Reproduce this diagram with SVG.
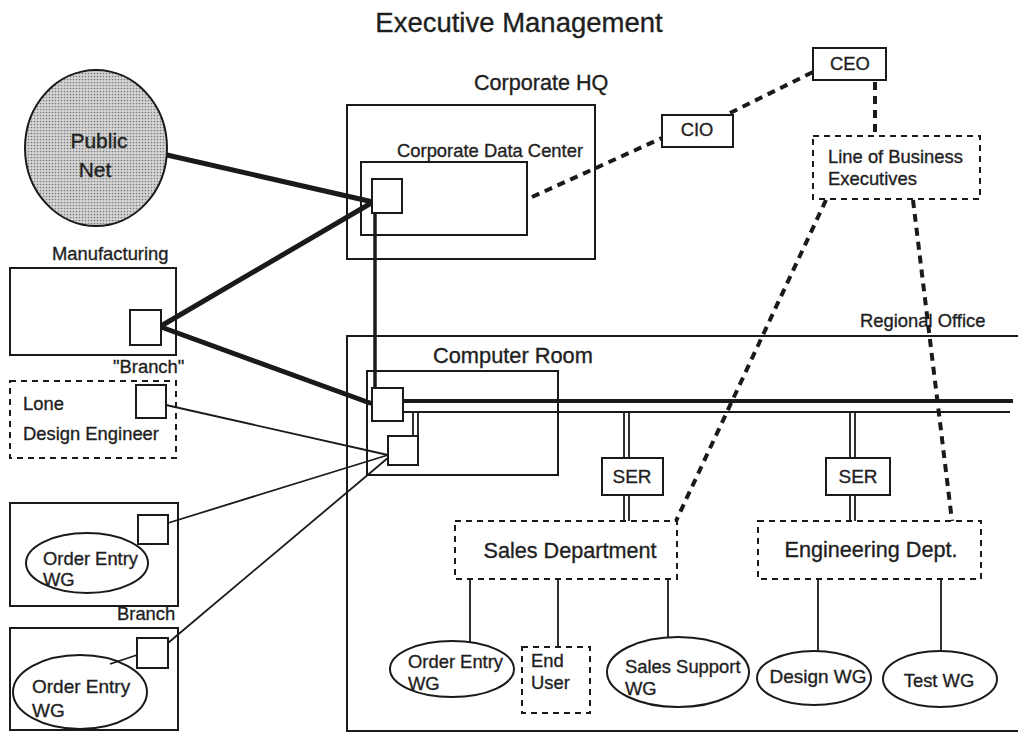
<svg xmlns="http://www.w3.org/2000/svg" width="1018" height="732" viewBox="0 0 1018 732">
  <defs>
    <!-- halftone fill for the public network cloud -->
    <pattern id="halftone" width="3" height="3" patternUnits="userSpaceOnUse">
      <rect width="3" height="3" fill="#d6d6d6"/>
      <circle cx="1.5" cy="1.5" r="0.85" fill="#7a7a7a"/>
    </pattern>
  </defs>
  <style>
    .bx { fill: none; stroke: #1a1a1a; stroke-width: 2; }
    .fl { fill: #ffffff; stroke: #1a1a1a; stroke-width: 2; }
    .db { fill: none; stroke: #1a1a1a; stroke-width: 2; stroke-dasharray: 6 5; }
    .thin { stroke: #1a1a1a; stroke-width: 1.8; fill: none; }
    .trunk { stroke: #1a1a1a; stroke-width: 5; fill: none; stroke-linecap: round; }
    .mid { stroke: #1a1a1a; stroke-width: 3.5; fill: none; }
    .mgmt { stroke: #1a1a1a; stroke-width: 4; fill: none; stroke-dasharray: 8 6; }
    text { font-family: "Liberation Sans", Arial, sans-serif; fill: #1f1f1f; stroke: #1f1f1f; stroke-width: 0.35; }
    .t18 { font-size: 18.4px; }
    .t19 { font-size: 19px; }
    .t21 { font-size: 21.6px; }
    .mid-a { text-anchor: middle; }
  </style>
  <rect width="1018" height="732" fill="#ffffff"/>

  <text x="519" y="32" class="mid-a" style="font-size:27.5px">Executive Management</text>

  <!-- regional office enclosure (runs off the right edge) -->
  <g id="regional-office">
    <rect x="347" y="336" width="700" height="395" class="bx"/>
    <text x="860" y="327" class="t18">Regional Office</text>
  </g>

  <g id="corporate-hq">
    <rect x="347" y="105" width="248" height="154" class="bx"/>
    <text x="474" y="90" class="t21">Corporate HQ</text>
  </g>

  <g id="corporate-data-center">
    <rect x="361" y="162" width="166" height="73" class="bx"/>
    <text x="397" y="157" class="t18">Corporate Data Center</text>
  </g>

  <g id="computer-room">
    <rect x="367" y="371" width="191" height="104" class="bx"/>
    <text x="433" y="363" style="font-size:21.8px">Computer Room</text>
  </g>

  <g id="manufacturing">
    <rect x="10" y="268" width="166" height="87" class="bx"/>
    <text x="52" y="260" class="t18">Manufacturing</text>
  </g>

  <g id="lone-design-engineer">
    <rect x="10" y="381" width="166" height="77" class="db"/>
    <text x="113" y="373" class="t18">"Branch"</text>
    <text x="23" y="410" class="t18">Lone</text>
    <text x="23" y="440" class="t18">Design Engineer</text>
  </g>

  <g id="branch-1">
    <rect x="10" y="503" width="168" height="103" class="bx"/>
  </g>

  <g id="branch-2">
    <rect x="10" y="628" width="168" height="102" class="bx"/>
    <text x="117" y="620" class="t18">Branch</text>
  </g>

  <!-- connectors -->
  <g id="connectors">
    <!-- WAN trunks -->
    <line x1="167" y1="155" x2="373" y2="202" class="trunk"/>
    <line x1="161" y1="326" x2="373" y2="202" class="trunk"/>
    <line x1="161" y1="327" x2="370" y2="403" class="trunk"/>
    <line x1="375" y1="202" x2="375" y2="390" class="mid"/>
    <!-- dial-in and branch links -->
    <line x1="166" y1="405" x2="388" y2="455" class="thin"/>
    <line x1="168" y1="523" x2="388" y2="455" class="thin"/>
    <line x1="168" y1="643" x2="389" y2="457" class="thin"/>
    <line x1="110" y1="664" x2="137" y2="655" class="thin"/>
    <!-- regional backbone -->
    <line x1="403" y1="401" x2="1013" y2="401" class="mid" style="stroke-width:4"/>
    <line x1="403" y1="412" x2="1010" y2="412" class="thin" style="stroke-width:2"/>
    <line x1="413" y1="412" x2="413" y2="436" class="thin"/>
    <line x1="418" y1="412" x2="418" y2="436" class="thin"/>
    <!-- SER drops -->
    <line x1="624" y1="412" x2="624" y2="458" class="thin"/>
    <line x1="629" y1="412" x2="629" y2="458" class="thin"/>
    <line x1="624" y1="495" x2="624" y2="521" class="thin"/>
    <line x1="629" y1="495" x2="629" y2="521" class="thin"/>
    <line x1="850" y1="412" x2="850" y2="458" class="thin"/>
    <line x1="855" y1="412" x2="855" y2="458" class="thin"/>
    <line x1="850" y1="495" x2="850" y2="521" class="thin"/>
    <line x1="855" y1="495" x2="855" y2="521" class="thin"/>
    <!-- department to workgroups -->
    <line x1="470" y1="579" x2="470" y2="642" class="thin"/>
    <line x1="558" y1="579" x2="558" y2="647" class="thin"/>
    <line x1="668" y1="579" x2="668" y2="637" class="thin"/>
    <line x1="818" y1="579" x2="818" y2="651" class="thin"/>
    <line x1="941" y1="579" x2="941" y2="651" class="thin"/>
    <!-- management reporting -->
    <line x1="532" y1="197" x2="662" y2="138" class="mgmt"/>
    <line x1="730" y1="113" x2="813" y2="72" class="mgmt"/>
    <line x1="875" y1="82" x2="875" y2="136" class="mgmt"/>
    <line x1="826" y1="200" x2="676" y2="521" class="mgmt"/>
    <line x1="913" y1="200" x2="952" y2="521" class="mgmt"/>
  </g>

  <g id="public-net">
    <ellipse cx="96" cy="148" rx="71" ry="78" fill="url(#halftone)" stroke="#1a1a1a" stroke-width="2"/>
    <text x="99" y="148" class="mid-a" style="font-size:21px">Public</text>
    <text x="95" y="177" class="mid-a" style="font-size:21px">Net</text>
  </g>

  <!-- routers -->
  <g id="router-hq"><rect x="372" y="179" width="30" height="34" class="fl"/></g>
  <g id="router-mfg"><rect x="130" y="310" width="31" height="35" class="fl"/></g>
  <g id="router-lone"><rect x="136" y="385" width="30" height="33" class="fl"/></g>
  <g id="router-regional-1"><rect x="372" y="388" width="31" height="33" class="fl"/></g>
  <g id="router-regional-2"><rect x="388" y="436" width="30" height="29" class="fl"/></g>
  <g id="router-branch-1"><rect x="138" y="515" width="30" height="29" class="fl"/></g>
  <g id="router-branch-2"><rect x="137" y="638" width="31" height="30" class="fl"/></g>

  <g id="order-entry-branch-1">
    <ellipse cx="87" cy="563" rx="61" ry="30" class="bx"/>
    <text x="43" y="565" class="t18">Order Entry</text>
    <text x="43" y="586" class="t18">WG</text>
  </g>

  <g id="order-entry-branch-2">
    <ellipse cx="80" cy="692" rx="67" ry="37" class="bx"/>
    <text x="32" y="693" class="t19">Order Entry</text>
    <text x="32" y="717" class="t19">WG</text>
  </g>

  <g id="ser-1">
    <rect x="602" y="458" width="61" height="37" class="fl"/>
    <text x="632" y="483" class="t19 mid-a">SER</text>
  </g>

  <g id="ser-2">
    <rect x="826" y="458" width="64" height="37" class="fl"/>
    <text x="858" y="483" class="t19 mid-a">SER</text>
  </g>

  <g id="sales-department">
    <rect x="455" y="521" width="222" height="58" class="db"/>
    <text x="570" y="558" class="t21 mid-a">Sales Department</text>
  </g>

  <g id="engineering-dept">
    <rect x="758" y="521" width="223" height="58" class="db"/>
    <text x="871" y="557" class="t21 mid-a">Engineering Dept.</text>
  </g>

  <g id="order-entry-wg">
    <ellipse cx="452" cy="669" rx="62" ry="28" class="bx"/>
    <text x="408" y="668" class="t18">Order Entry</text>
    <text x="408" y="690" class="t18">WG</text>
  </g>

  <g id="end-user">
    <rect x="522" y="647" width="68" height="66" class="db"/>
    <text x="531" y="667" class="t18">End</text>
    <text x="531" y="689" class="t18">User</text>
  </g>

  <g id="sales-support-wg">
    <ellipse cx="678" cy="672" rx="71" ry="35" class="bx"/>
    <text x="625" y="673" class="t18">Sales Support</text>
    <text x="625" y="695" class="t18">WG</text>
  </g>

  <g id="design-wg">
    <ellipse cx="814" cy="678" rx="57" ry="27" class="bx"/>
    <text x="818" y="683" class="t19 mid-a">Design WG</text>
  </g>

  <g id="test-wg">
    <ellipse cx="940" cy="679" rx="57" ry="28" class="bx"/>
    <text x="939" y="687" class="t18 mid-a">Test WG</text>
  </g>

  <g id="cio">
    <rect x="662" y="115" width="71" height="32" class="fl"/>
    <text x="697" y="136" class="t18 mid-a">CIO</text>
  </g>

  <g id="ceo">
    <rect x="813" y="48" width="73" height="32" class="fl"/>
    <text x="850" y="70" class="t18 mid-a">CEO</text>
  </g>

  <g id="line-of-business">
    <rect x="813" y="136" width="167" height="63" class="db"/>
    <text x="828" y="163" class="t18">Line of Business</text>
    <text x="828" y="185" class="t18">Executives</text>
  </g>
</svg>
